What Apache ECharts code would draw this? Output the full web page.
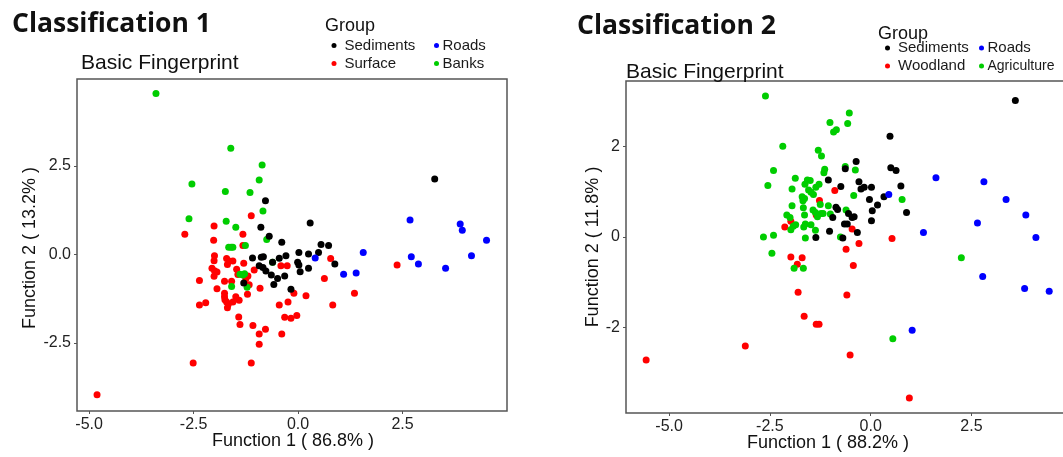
<!DOCTYPE html>
<html>
<head>
<meta charset="utf-8">
<script src="https://cdn.jsdelivr.net/npm/echarts@6/dist/echarts.min.js"></script>
<style>
  html, body { margin: 0; padding: 0; background: #ffffff; }
  #chart { width: 1063px; height: 457px; }
</style>
</head>
<body>
<div id="chart"></div>
<script>
// ---- Classification 1: discriminant scores [Function 1, Function 2] ----
const c1Sediments = [
  [-0.78, 1.52], [0.29, 0.89], [-0.89, 0.77], [-0.69, 0.51], [-0.39, 0.34], [0.55, 0.28],
  [0.73, 0.25], [-1.09, -0.10], [-0.88, -0.08], [-0.83, -0.07], [-0.45, -0.11], [-0.29, -0.04],
  [0.02, 0.05], [0.25, 0.01], [0.49, 0.05], [-0.93, -0.32], [-0.84, -0.37], [-0.61, -0.22],
  [-0.77, -0.47], [-0.01, -0.22], [0.02, -0.30], [0.05, -0.49], [0.25, -0.39], [-0.64, -0.58],
  [-0.49, -0.68], [-0.32, -0.61], [-0.58, -0.85], [-1.30, -0.81], [-0.17, -0.99], [0.88, -0.27],
  [3.27, 2.13]
];
const c1Roads = [
  [2.68, 0.97], [3.88, 0.86], [3.93, 0.68], [4.51, 0.40], [0.41, -0.10], [1.56, 0.05],
  [2.71, -0.07], [2.88, -0.27], [3.53, -0.39], [4.15, -0.04], [1.09, -0.56], [1.39, -0.53]
];
const c1Surface = [
  [-1.12, 1.09], [-2.01, 0.80], [-2.71, 0.57], [-1.32, 0.57], [-2.02, 0.40], [-1.32, 0.25],
  [-2.00, -0.04], [-2.01, -0.18], [-1.71, -0.12], [-1.65, -0.19], [-1.56, -0.19], [-1.69, -0.29],
  [-1.30, -0.25], [-2.06, -0.39], [-2.00, -0.46], [-1.94, -0.50], [-1.05, -0.44], [-0.41, -0.32],
  [-0.26, -0.32], [-1.47, -0.42], [-1.44, -0.57], [-1.20, -0.61], [-1.25, -0.69], [-2.36, -0.74],
  [-2.01, -0.62], [-1.76, -0.76], [-1.59, -0.76], [-1.17, -0.86], [-1.94, -0.97], [-0.91, -0.96],
  [-1.76, -1.10], [-1.76, -1.20], [-1.75, -1.28], [-1.71, -1.35], [-1.67, -1.41], [-1.56, -1.35],
  [-1.69, -1.51], [-1.49, -1.20], [-1.41, -1.30], [-1.21, -1.13], [-2.21, -1.37], [-2.36, -1.43],
  [-0.10, -1.10], [0.19, -1.17], [-0.24, -1.35], [-0.45, -1.43], [-0.03, -1.73], [-0.17, -1.81],
  [-0.32, -1.78], [-1.42, -1.77], [-1.39, -1.98], [-1.08, -2.01], [-0.78, -2.12], [-0.93, -2.25],
  [-0.39, -2.25], [-0.93, -2.54], [-2.51, -3.07], [-1.12, -3.07], [-4.81, -3.97], [0.78, -0.12],
  [2.37, -0.30], [0.63, -0.68], [1.35, -1.10], [0.83, -1.43]
];
const c1Banks = [
  [-3.40, 4.55], [-1.61, 3.00], [-0.86, 2.53], [-0.93, 2.10], [-2.54, 1.99], [-1.74, 1.78],
  [-1.15, 1.75], [-0.84, 1.23], [-2.61, 1.01], [-1.72, 0.94], [-1.49, 0.77], [-0.75, 0.42],
  [-1.66, 0.20], [-1.60, 0.20], [-1.56, 0.20], [-1.26, 0.25], [-0.61, -0.22], [-1.39, -0.56],
  [-1.32, -0.58], [-1.28, -0.55], [-1.59, -0.91], [-1.22, -0.93]
];

// ---- Classification 2: discriminant scores [Function 1, Function 2] ----
const c2Sediments = [
  [3.59, 3.02], [-0.63, 1.51], [-1.05, 1.26], [-0.74, 1.12], [-0.86, 0.66], [-0.82, 0.61],
  [-0.55, 0.52], [-0.94, 0.43], [-0.65, 0.29], [-0.58, 0.29], [-1.02, 0.13], [-1.36, -0.01],
  [-0.69, -0.02], [0.48, 2.23], [-0.36, 1.67], [0.50, 1.53], [0.63, 1.47], [-0.29, 1.22],
  [-0.24, 1.06], [-0.16, 1.10], [0.02, 1.10], [0.75, 1.13], [-0.03, 0.83], [0.04, 0.58],
  [0.17, 0.71], [0.33, 0.89], [-0.46, 0.43], [-0.41, 0.45], [0.89, 0.54], [0.02, 0.36],
  [-0.33, 0.10]
];
const c2Roads = [
  [1.62, 1.31], [2.81, 1.22], [0.45, 0.94], [3.36, 0.83], [3.85, 0.49], [2.65, 0.31],
  [1.31, 0.10], [4.10, -0.01], [2.78, -0.87], [3.82, -1.14], [4.43, -1.20], [1.03, -2.06]
];
const c2Woodland = [
  [-0.89, 1.03], [-1.27, 0.81], [-1.35, 0.49], [-1.98, 0.35], [-2.13, 0.22], [-0.61, -0.27],
  [-0.46, 0.18], [0.53, -0.03], [-0.29, -0.14], [-0.43, -0.63], [-0.59, -1.28], [-0.51, -2.61],
  [0.96, -3.56], [-1.98, -0.44], [-1.70, -0.46], [-1.82, -0.60], [-1.80, -1.22], [-1.65, -1.75],
  [-1.35, -1.93], [-1.28, -1.93], [-3.11, -2.41], [-5.57, -2.72]
];
const c2Agriculture = [
  [-2.61, 3.12], [-0.53, 2.74], [-1.01, 2.53], [-0.57, 2.51], [-0.92, 2.32], [-0.85, 2.37],
  [-2.18, 2.01], [-1.30, 1.92], [-1.22, 1.79], [-0.63, 1.56], [-1.14, 1.50], [-1.16, 1.42],
  [-2.41, 1.47], [-1.87, 1.30], [-2.55, 1.14], [-1.57, 1.26], [-1.50, 1.25], [-1.63, 1.17],
  [-1.28, 1.17], [-1.36, 1.10], [-1.95, 1.06], [-1.54, 1.04], [-1.48, 0.99], [-1.42, 0.94],
  [-1.70, 0.89], [-1.64, 0.85], [-1.68, 0.80], [-1.25, 0.72], [-1.05, 0.69], [-1.95, 0.69],
  [-1.67, 0.65], [-1.43, 0.60], [-1.37, 0.54], [-0.61, 0.60], [-1.32, 0.45], [-1.23, 0.52],
  [-1.18, 0.52], [-2.08, 0.49], [-1.64, 0.49], [-1.00, 0.51], [-2.00, 0.43], [-1.86, 0.27],
  [-1.92, 0.24], [-1.98, 0.16], [-1.62, 0.29], [-1.66, 0.22], [-1.48, 0.27], [-1.37, 0.15],
  [-2.66, 0.00], [-2.41, 0.04], [-1.62, -0.02], [-0.75, 0.00], [-0.38, 1.48], [-0.42, 0.92],
  [0.78, 0.83], [2.25, -0.46], [0.55, -2.25], [-2.45, -0.36], [-1.90, -0.69], [-1.67, -0.69]
];

// ---- tick labels ----
const c1XTicks = [-5, -2.5, 0, 2.5];
const c1YTicks = [-2.5, 0, 2.5];
const c2XTicks = [-5, -2.5, 0, 2.5];
const c2YTicks = [-2, 0, 2];

const colors = { Sediments: '#000000', Roads: '#0000ff', Surface: '#ff0000', Banks: '#00cd00',
                 Woodland: '#ff0000', Agriculture: '#00cd00' };

const SANS = '"Liberation Sans", Arial, Helvetica, sans-serif';
const tickText = { color: '#222222', fontSize: 16, fontFamily: SANS };

function valueAxis(gridIndex, min, max, ticks, digits) {
  return {
    type: 'value', gridIndex, min, max,
    axisLine: { show: false, onZero: false },
    splitLine: { show: false },
    axisTick: { show: true, length: 3, lineStyle: { color: '#555555', width: 1 }, customValues: ticks },
    axisLabel: {
      ...tickText, margin: 6, customValues: ticks,
      formatter: v => Number(v).toFixed(digits)
    }
  };
}

function scatter(name, data, idx) {
  return {
    type: 'scatter', name, data,
    xAxisIndex: idx, yAxisIndex: idx,
    symbol: 'circle', symbolSize: 7,
    itemStyle: { color: colors[name], opacity: 1 },
    emphasis: { disabled: true }
  };
}

// one legend column: keyWidth sets the space between the key dot and its text
function legendCol(left, top, names, keyWidth, textShift) {
  return {
    orient: 'vertical', left, top, data: names, padding: 0,
    icon: 'circle', itemWidth: keyWidth, itemHeight: 5, itemGap: 0,
    textStyle: { color: '#1a1a1a', fontSize: 15, fontFamily: SANS, lineHeight: 18,
                 padding: [0, 0, 0, textShift] },
    selectedMode: false
  };
}

function label(text, x, y, font, rotation) {
  return {
    type: 'text', x, y, rotation: rotation || 0, silent: true,
    style: { text, font, fill: '#111111', align: 'center', verticalAlign: 'middle' }
  };
}
function labelLeft(text, x, y, font) {
  return {
    type: 'text', x, y, silent: true,
    style: { text, font, fill: '#111111', align: 'left', verticalAlign: 'middle' }
  };
}

const chart = echarts.init(document.getElementById('chart'), null, { renderer: 'canvas' });

const gridBase = { show: true, borderColor: '#555555', borderWidth: 1.5, backgroundColor: '#ffffff',
                   containLabel: false, outerBoundsMode: 'none' };

chart.setOption({
  animation: false,
  backgroundColor: '#ffffff',
  grid: [
    { ...gridBase, left: 77, top: 79, width: 430, height: 332 },
    // the second panel runs past the right edge of the page
    { ...gridBase, left: 626, top: 81, width: 449, height: 332 }
  ],
  xAxis: [
    valueAxis(0, -5.29, 5.0, c1XTicks, 1),
    valueAxis(1, -6.07, 5.07, c2XTicks, 1)
  ],
  yAxis: [
    valueAxis(0, -4.43, 4.96, c1YTicks, 1),
    valueAxis(1, -3.89, 3.45, c2YTicks, 0)
  ],
  legend: [
    legendCol(331.5, 36.5, ['Sediments', 'Surface'], 11, 0),
    legendCol(434, 36.5, ['Roads', 'Banks'], 6, -2),
    legendCol(885, 39, ['Sediments', 'Woodland'], 11, 0),
    legendCol(979, 39, ['Roads', { name: 'Agriculture', textStyle: { fontSize: 14 } }], 6, -2)
  ],
  series: [
    scatter('Surface', c1Surface, 0),
    scatter('Banks', c1Banks, 0),
    scatter('Sediments', c1Sediments, 0),
    scatter('Roads', c1Roads, 0),
    scatter('Woodland', c2Woodland, 1),
    scatter('Agriculture', c2Agriculture, 1),
    scatter('Sediments', c2Sediments, 1),
    scatter('Roads', c2Roads, 1)
  ],
  graphic: [
    labelLeft('Classification 1', 12, 24.5, 'bold 26.5px "Open Sans", "Noto Sans", sans-serif'),
    labelLeft('Classification 2', 577, 26.5, 'bold 26.5px "Open Sans", "Noto Sans", sans-serif'),
    labelLeft('Basic Fingerprint', 81, 63, '21px ' + SANS),
    labelLeft('Basic Fingerprint', 626, 72, '21px ' + SANS),
    labelLeft('Group', 325, 26, '18px ' + SANS),
    labelLeft('Group', 878, 34, '18px ' + SANS),
    label('Function 1 ( 86.8% )', 293, 441, '18px ' + SANS),
    label('Function 1 ( 88.2% )', 828, 443, '18px ' + SANS),
    label('Function 2 ( 13.2% )', 30, 248, '18px ' + SANS, Math.PI / 2),
    label('Function 2 ( 11.8% )', 593, 247, '18px ' + SANS, Math.PI / 2)
  ]
});
</script>
</body>
</html>
